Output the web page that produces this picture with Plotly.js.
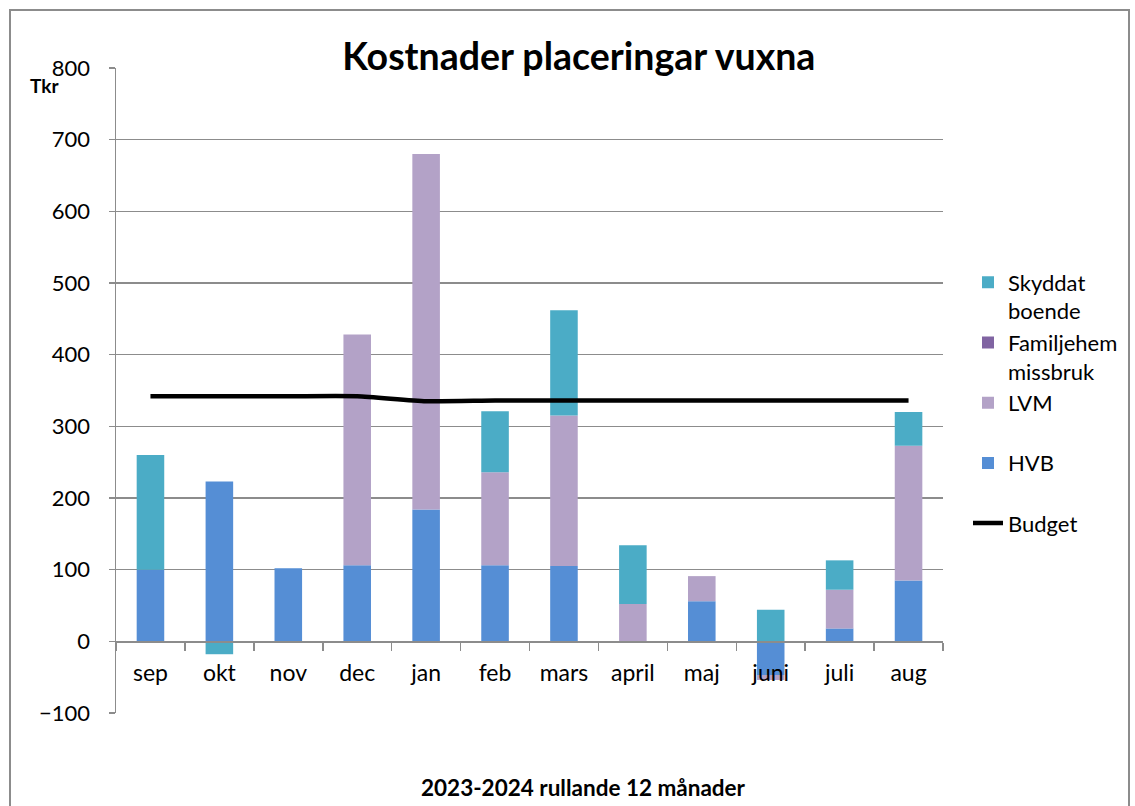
<!DOCTYPE html>
<html>
<head>
<meta charset="utf-8">
<script src="https://cdn.plot.ly/plotly-3.0.1.min.js"></script>
<style>
html,body{margin:0;padding:0;background:#fff;}
#chart{position:absolute;left:0;top:0;width:1135px;height:806px;}
#frame{position:absolute;left:9px;top:9px;width:1117px;height:830px;border:2px solid #8c8c8c;pointer-events:none;}
</style>
</head>
<body>
<div id="chart"></div>
<div id="frame"></div>
<script>
const months = ["sep","okt","nov","dec","jan","feb","mars","april","maj","juni","juli","aug"];
const hvb = [100,223,102,106,184,106,105,0,56,-47,18,85];
const lvm = [0,0,0,322,496,130,210,52,35,-7,54,188];
const familjehem = [0,0,0,0,0,0,0,0,0,0,0,0];
const skyddat = [160,-18,-1,0,0,85,147,82,0,44,41,47];
const budget = [342,342,342,342,335,336,336,336,336,336,336,336];
const yTicks = [-100,0,100,200,300,400,500,600,700,800];

const FONT = "Lato, 'Open Sans', sans-serif";

const traces = [
  {type:"bar", name:"HVB<br> ", x:months, y:hvb, marker:{color:"#558ed5"}, legendrank:4, legendgroup:"d"},
  {type:"bar", name:"LVM<br> ", x:months, y:lvm, marker:{color:"#b3a2c7"}, legendrank:3, legendgroup:"c"},
  {type:"bar", name:"Familjehem<br>missbruk", x:months, y:familjehem, marker:{color:"#8064a2"}, legendrank:2, legendgroup:"b"},
  {type:"bar", name:"Skyddat<br>boende", x:months, y:skyddat, marker:{color:"#4bacc6"}, legendrank:1, legendgroup:"a"},
  {type:"scatter", mode:"lines", name:"Budget<br> ", x:months, y:budget, line:{color:"#000", width:4.5, shape:"spline", smoothing:0.6}, legendrank:5, legendgroup:"e"}
];

const layout = {
  width:1135, height:806,
  margin:{l:116, r:192, t:68, b:93},
  paper_bgcolor:"#fff", plot_bgcolor:"#fff",
  font:{family:FONT, size:22, color:"#000"},
  barmode:"relative",
  bargap:0.6,
  showlegend:true,
  legend:{xref:"container", x:968/1135, xanchor:"left", y:0.700, yanchor:"top", traceorder:"grouped", tracegroupgap:0, valign:"top", font:{size:22}, itemwidth:30},
  title:{text:"<b>Kostnader placeringar vuxna</b>", font:{size:37.5, family:FONT}, xref:"container", x:0.51, xanchor:"center", yref:"container", y:0.929, yanchor:"middle"},
  xaxis:{type:"category", range:[-0.5,11.5], anchor:"free", position:100/900, showline:true, linecolor:"#8c8c8c", linewidth:1.5,
         ticks:"outside", tickson:"boundaries", ticklen:8, tickcolor:"#8c8c8c", tickwidth:1.5,
         showgrid:false, tickfont:{size:23}, ticklabelstandoff:11},
  yaxis:{range:[-100,800], tickvals:yTicks, showgrid:true, gridcolor:"#8c8c8c", gridwidth:1.5, zeroline:false,
         showline:true, linecolor:"#8c8c8c", linewidth:1.5, ticks:"outside", ticklen:6, tickcolor:"#8c8c8c", tickwidth:1.5,
         tickfont:{size:22}, ticklabelstandoff:14},
  annotations:[
    {text:"<b>Tkr</b>", xref:"paper", yref:"paper", x:-0.107, y:(800-(-100)-25)/900, xanchor:"left", yanchor:"middle", showarrow:false, font:{size:19}},
    {text:"<b>2023-2024 rullande 12 månader</b>", xref:"paper", yref:"paper", x:(583-116)/827, y:(713-787)/645, xanchor:"center", yanchor:"middle", showarrow:false, font:{size:22.5}}
  ]
};

Plotly.newPlot("chart", traces, layout, {displayModeBar:false, staticPlot:true});
</script>
</body>
</html>
